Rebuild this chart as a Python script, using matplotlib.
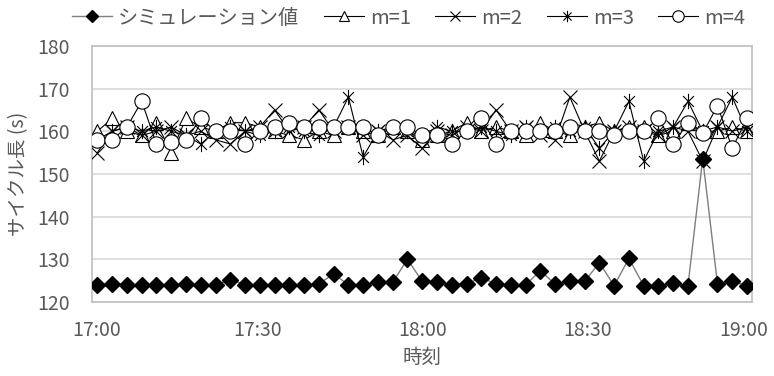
import matplotlib
matplotlib.use('Agg')
import matplotlib.pyplot as plt
import matplotlib.transforms as mtransforms
from matplotlib.path import Path

plt.rcParams['font.family'] = ['Noto Sans CJK JP', 'DejaVu Sans']

# seconds after 17:00 for each cycle
times_s = [58, 219, 380, 541, 702, 863, 1024, 1185, 1346, 1507, 1668, 1829, 1990,
           2151, 2312, 2473, 2634, 2795, 2956, 3117, 3278, 3439, 3600, 3761, 3922,
           4083, 4244, 4405, 4566, 4727, 4888, 5049, 5210, 5371, 5532, 5693, 5854,
           6015, 6176, 6337, 6498, 6659, 6820, 6981, 7142]

sim = [124.0, 124.3, 124.0, 124.0, 124.0, 124.0, 124.2, 124.0, 124.0, 125.2,
       124.0, 124.0, 124.0, 124.0, 124.0, 124.2, 126.6, 124.0, 124.0, 124.6,
       124.6, 130.0, 124.8, 124.6, 124.0, 124.2, 125.7, 124.2, 124.0, 124.0,
       127.3, 124.2, 124.8, 124.8, 129.2, 123.8, 130.2, 123.8, 123.8, 124.4,
       123.8, 153.6, 124.2, 124.8, 123.8]

m1 = [160, 163, 160, 159, 162, 155, 163, 161, 160, 162, 162, 161, 160, 159, 158,
      160, 159, 161, 160, 159, 161, 160, 158, 159, 160, 162, 160, 161, 160, 159,
      162, 160, 159, 161, 162, 160, 161, 161, 159, 160, 162, 160, 160, 161, 160]

m2 = [155, 160, 161, 159, 160, 161, 159, 160, 158, 157, 160, 161, 165, 160, 161,
      165, 160, 161, 159, 160, 158, 159, 156, 160, 159, 161, 160, 165, 160, 161,
      159, 158, 168, 160, 153, 160, 161, 160, 159, 161, 160, 153, 161, 160, 161]

m3 = [158, 160, 161, 160, 161, 160, 159, 157, 160, 161, 160, 159, 160, 161, 160,
      159, 161, 168, 154, 160, 161, 160, 159, 161, 160, 160, 161, 160, 159, 161,
      160, 161, 160, 161, 156, 160, 167, 153, 160, 161, 167, 160, 161, 168, 160]

m4 = [158, 158, 161, 167, 157, 157.5, 158, 163, 160, 160, 157, 160, 161, 162, 161,
      161, 161, 161, 161, 159, 161, 161, 159, 159, 157, 160, 163, 157, 160, 160,
      160, 160, 161, 160, 160, 159, 160, 160, 163, 157, 162, 159.5, 166, 156, 163]

labels = ['シミュレーション値', 'm=1', 'm=2', 'm=3', 'm=4']
xticks_s = [0, 1800, 3600, 5400, 7200]
xtick_labels = ['17:00', '17:30', '18:00', '18:30', '19:00']

# asterisk marker like Excel: x plus vertical bar
star = Path([(-1, -1), (1, 1), (-1, 1), (1, -1), (0, -1.4), (0, 1.4)],
            [Path.MOVETO, Path.LINETO, Path.MOVETO, Path.LINETO, Path.MOVETO, Path.LINETO])

fig = plt.figure(figsize=(7.74, 3.76), dpi=100)
ax = fig.add_axes([0.119, 0.197, 0.853, 0.681])

txt = '#595959'
ax.plot(times_s, sim, color='#7f7f7f', lw=1, marker='D', ms=8.5,
        mfc='black', mec='black', label=labels[0], zorder=3)
ax.plot(times_s, m1, color='black', lw=0.8, marker='^', ms=10,
        mfc='white', mec='black', mew=0.8, label=labels[1], zorder=4)
ax.plot(times_s, m2, color='black', lw=0.8, marker='x', ms=10,
        mec='black', mew=0.8, label=labels[2], zorder=4)
ax.plot(times_s, m3, color='black', lw=0.8, marker=star, ms=11,
        mec='black', mew=0.8, label=labels[3], zorder=4)
ax.plot(times_s, m4, color='black', lw=0.8, marker='o', ms=11,
        mfc='white', mec='black', mew=0.8, label=labels[4], zorder=5)

ax.set_xlim(0, 7200)
ax.set_ylim(120, 180)
ax.set_xticks(xticks_s)
ax.set_xticklabels(xtick_labels)
ax.set_yticks(range(120, 181, 10))
ax.tick_params(length=0, labelsize=14, colors=txt)
ax.tick_params(axis='x', pad=13)
ax.tick_params(axis='y', pad=16)
ax.grid(axis='y', color='#d9d9d9', lw=1.2)
ax.set_axisbelow(True)
for s in ax.spines.values():
    s.set_color('#bfbfbf')
    s.set_linewidth(1.2)

# nudge the end labels inward, as the reference does
xlabels = ax.get_xticklabels()
xlabels[0].set_transform(xlabels[0].get_transform() +
                         mtransforms.ScaledTranslation(5 / 100, 0, fig.dpi_scale_trans))
xlabels[-1].set_transform(xlabels[-1].get_transform() +
                          mtransforms.ScaledTranslation(-9 / 100, 0, fig.dpi_scale_trans))

ax.set_xlabel('時刻', fontsize=14, color=txt, labelpad=4)
ax.set_ylabel('サイクル長 (s)', fontsize=14, color=txt, labelpad=6)

fig.legend(loc='center', bbox_to_anchor=(0.528, 0.952), ncol=5, frameon=False,
           fontsize=14.5, labelcolor=txt, handlelength=2.0, handletextpad=0.3,
           columnspacing=1.2, borderaxespad=0, markerscale=0.75)

fig.savefig('out.png', dpi=100)
